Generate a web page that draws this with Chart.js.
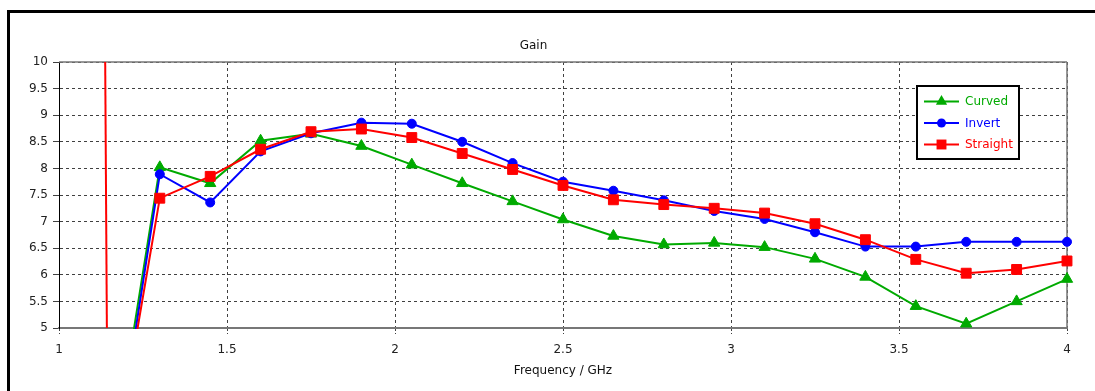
<!DOCTYPE html>
<html>
<head>
<meta charset="utf-8">
<title>Gain</title>
<script src="https://cdn.jsdelivr.net/npm/chart.js@4/dist/chart.umd.min.js"></script>
<style>
  html, body { margin: 0; padding: 0; background: #fff; overflow: hidden; }
  #wrap { position: relative; width: 1095px; height: 391px; }
</style>
</head>
<body>
<div id="wrap"><canvas id="gain" width="1095" height="391"></canvas></div>
<script>
// Frequency sweep (GHz)
const freq = [1.15, 1.3, 1.45, 1.6, 1.75, 1.9, 2.05, 2.2, 2.35, 2.5, 2.65, 2.8, 2.95, 3.1, 3.25, 3.4, 3.55, 3.7, 3.85, 4.0];

// Gain per antenna variant
const curved   = [2.1, 8.02, 7.72, 8.52, 8.65, 8.42, 8.07, 7.72, 7.38, 7.04, 6.73, 6.57, 6.60, 6.52, 6.30, 5.96, 5.41, 5.08, 5.50, 5.92];
const invert   = [1.8, 7.89, 7.36, 8.32, 8.66, 8.86, 8.84, 8.50, 8.10, 7.75, 7.58, 7.40, 7.20, 7.05, 6.80, 6.53, 6.53, 6.62, 6.62, 6.62];
const straight = [1.9, 7.44, 7.85, 8.36, 8.69, 8.74, 8.58, 8.28, 7.98, 7.68, 7.41, 7.32, 7.25, 7.16, 6.96, 6.66, 6.29, 6.03, 6.10, 6.26];

// Frequency marker line
const markerFreq = [1.1375, 1.1425];
const markerGain = [10, 5];

// Axis ticks
const xTicks = [1, 1.5, 2, 2.5, 3, 3.5, 4];
const yTicks = [5, 5.5, 6, 6.5, 7, 7.5, 8, 8.5, 9, 9.5, 10];

const FONT = "'DejaVu Sans', Verdana, sans-serif";
const GREEN = '#00aa00', BLUE = '#0000ff', RED = '#ff0000';

const pts = (xs, ys) => xs.map((x, i) => ({ x, y: ys[i] }));

function series(label, ys, color, style, radius, order) {
  return {
    label, data: pts(freq, ys), borderColor: color, backgroundColor: color,
    borderWidth: 2, pointStyle: style, pointRadius: radius, pointBorderWidth: 1,
    pointBackgroundColor: color, pointBorderColor: color, tension: 0, order,
    clip: { left: 0, top: 10, right: 12, bottom: 1 }, showInBox: true
  };
}

// Outer panel edges and the plot frame
const framePlugin = {
  id: 'framePlugin',
  beforeDraw(chart) {
    const { ctx, width, height } = chart;
    ctx.save();
    ctx.fillStyle = '#fff';
    ctx.fillRect(0, 0, width, height);
    ctx.fillStyle = '#000';
    ctx.fillRect(7, 10, width - 7, 3);
    ctx.fillRect(7, 10, 3, height - 10);
    ctx.restore();
  },
  beforeDatasetsDraw(chart) {
    const { ctx, chartArea: a } = chart;
    ctx.save();
    ctx.strokeStyle = '#777';
    ctx.lineWidth = 1.5;
    ctx.beginPath();
    ctx.moveTo(a.left, a.top);
    ctx.lineTo(a.right, a.top);
    ctx.moveTo(a.right, a.top);
    ctx.lineTo(a.right, a.bottom);
    ctx.stroke();
    ctx.restore();
  }
};

function drawMarker(ctx, style, r, x, y, color) {
  ctx.fillStyle = color;
  ctx.beginPath();
  if (style === 'triangle') {
    ctx.moveTo(x, y - r);
    ctx.lineTo(x + r * 0.866, y + r / 2);
    ctx.lineTo(x - r * 0.866, y + r / 2);
    ctx.closePath();
  } else if (style === 'rect') {
    const s = r * Math.SQRT1_2;
    ctx.rect(x - s, y - s, 2 * s, 2 * s);
  } else {
    ctx.arc(x, y, r, 0, Math.PI * 2);
  }
  ctx.fill();
}

// Boxed legend inside the plot, line + marker samples
const boxLegend = {
  id: 'boxLegend',
  afterDatasetsDraw(chart) {
    const { ctx, chartArea: a } = chart;
    const items = chart.data.datasets.filter(d => d.showInBox);
    const w = 102, h = 73;
    const left = a.right - 48 - w, top = a.top + 24;
    ctx.save();
    ctx.fillStyle = '#fff';
    ctx.fillRect(left, top, w, h);
    ctx.strokeStyle = '#000';
    ctx.lineWidth = 2;
    ctx.strokeRect(left, top, w, h);
    ctx.font = '12px ' + FONT;
    ctx.textBaseline = 'middle';
    items.forEach((d, i) => {
      const y = top + 15.5 + i * 21.5;
      ctx.strokeStyle = d.borderColor;
      ctx.lineWidth = 2;
      ctx.beginPath();
      ctx.moveTo(left + 7, y);
      ctx.lineTo(left + 42, y);
      ctx.stroke();
      drawMarker(ctx, d.pointStyle, d.pointRadius, left + 24.5, y, d.borderColor);
      ctx.fillStyle = d.borderColor;
      ctx.fillText(d.label, left + 48, y + 0.5);
    });
    ctx.restore();
  }
};

new Chart(document.getElementById('gain'), {
  type: 'line',
  data: {
    datasets: [
      series('Curved', curved, GREEN, 'triangle', 6.5, 3),
      series('Invert', invert, BLUE, 'circle', 4.5, 2),
      series('Straight', straight, RED, 'rect', 7, 1),
      {
        label: 'marker', data: pts(markerFreq, markerGain), borderColor: RED,
        borderWidth: 2, pointRadius: 0, order: 0, showInBox: false
      }
    ]
  },
  options: {
    responsive: false,
    devicePixelRatio: 1,
    animation: false,
    events: [],
    layout: { padding: { left: 0, right: 28, top: 0, bottom: 0 } },
    plugins: {
      legend: { display: false },
      tooltip: { enabled: false },
      title: {
        display: true, text: 'Gain', color: '#111',
        font: { family: FONT, size: 12, weight: 'normal' },
        padding: { top: 39, bottom: 8.6 }
      }
    },
    scales: {
      x: {
        type: 'linear', min: 1, max: 4,
        afterBuildTicks: s => { s.ticks = xTicks.map(v => ({ value: v })); },
        afterFit: s => { s.height = 63; },
        ticks: { color: '#222', font: { family: FONT, size: 12 }, padding: 9, maxRotation: 0, callback: v => String(v) },
        grid: { color: 'rgba(0,0,0,0.75)', lineWidth: 1, tickLength: 6, tickBorderDash: [2, 2] },
        border: { color: '#777', width: 2, dash: [3, 3] },
        title: { display: true, text: 'Frequency / GHz', color: '#111', font: { family: FONT, size: 12 }, padding: { top: 0, bottom: 13 } }
      },
      y: {
        type: 'linear', min: 5, max: 10,
        afterBuildTicks: s => { s.ticks = yTicks.map(v => ({ value: v })); },
        afterFit: s => { s.width = 59; },
        ticks: { color: '#222', font: { family: FONT, size: 12 }, padding: 5, callback: v => String(v) },
        grid: { color: 'rgba(0,0,0,0.75)', lineWidth: 1, tickLength: 6, tickBorderDash: [] },
        border: { color: '#000', width: 1, dash: [3, 3] }
      }
    }
  },
  plugins: [framePlugin, boxLegend]
});
</script>
</body>
</html>
